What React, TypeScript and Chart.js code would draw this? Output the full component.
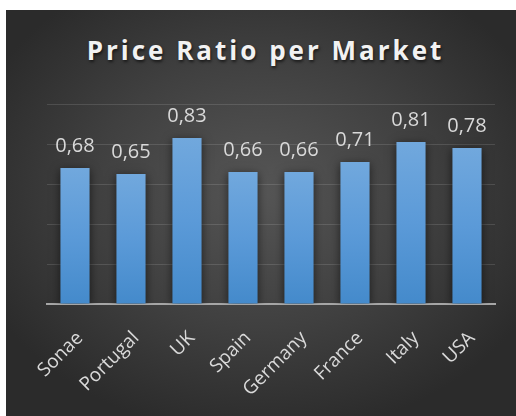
import React, { useEffect, useRef } from "react";
import { Chart, registerables } from "chart.js";

Chart.register(...registerables);

const title = "Price Ratio per Market";
const categories = ["Sonae", "Portugal", "UK", "Spain", "Germany", "France", "Italy", "USA"];
const priceRatio = [0.68, 0.65, 0.83, 0.66, 0.66, 0.71, 0.81, 0.78];
const yMin = 0;
const yMax = 1;
const yStep = 0.2;

const fmt = (v: number) => v.toFixed(2).replace(".", ",");

const labelPlugin = {
  id: "valueLabels",
  beforeDatasetsDraw(chart: any) {
    const ctx = chart.ctx;
    ctx.save();
    ctx.shadowColor = "rgba(0,0,0,0.55)";
    ctx.shadowBlur = 9;
    ctx.shadowOffsetX = 0;
    ctx.shadowOffsetY = 2;
  },
  afterDatasetsDraw(chart: any) {
    const ctx = chart.ctx;
    ctx.restore();
    const meta = chart.getDatasetMeta(0);
    ctx.save();
    ctx.fillStyle = "#d9d9d9";
    ctx.font = "20px 'Open Sans'";
    ctx.textAlign = "center";
    ctx.textBaseline = "alphabetic";
    meta.data.forEach((bar: any, i: number) => {
      ctx.fillText(fmt(priceRatio[i]), bar.x, bar.y - 16);
    });
    ctx.restore();
  },
};

export default function App() {
  const ref = useRef<HTMLCanvasElement | null>(null);
  useEffect(() => {
    if (!ref.current) return;
    const chart = new Chart(ref.current, {
      type: "bar",
      data: {
        labels: categories,
        datasets: [
          {
            data: priceRatio,
            barPercentage: 0.52,
            categoryPercentage: 1,
            borderWidth: 0,
            backgroundColor: (c: any) => {
              const ch = c.chart;
              const ys = ch.scales?.y;
              if (!ch.chartArea || !ys || c.parsed == null) return "#5b9bd5";
              const top = ys.getPixelForValue(c.parsed.y);
              const bottom = ys.getPixelForValue(0);
              const g = ch.ctx.createLinearGradient(0, top, 0, bottom);
              g.addColorStop(0, "#71a8dd");
              g.addColorStop(0.5, "#5b9ad8");
              g.addColorStop(1, "#448acb");
              return g;
            },
          },
        ],
      },
      options: {
        animation: false,
        responsive: false,
        maintainAspectRatio: false,
        layout: { padding: { top: 94, right: 21, left: 0, bottom: 0 } },
        plugins: { legend: { display: false }, tooltip: { enabled: false }, title: { display: false } },
        scales: {
          x: {
            grid: { display: false, drawTicks: false },
            border: { display: true, color: "#a6a6a6", width: 2 },
            ticks: {
              color: "#d9d9d9",
              font: { family: "'Open Sans'", size: 19 },
              minRotation: 45,
              maxRotation: 45,
              padding: 23,
              labelOffset: 5,
              autoSkip: false,
            },
            afterFit: (s: any) => {
              s.height = 112;
            },
          },
          y: {
            min: yMin,
            max: yMax,
            ticks: { display: false, stepSize: yStep },
            grid: { color: "rgba(255,255,255,0.12)", lineWidth: 1, drawTicks: false },
            border: { display: false },
            afterFit: (s: any) => {
              s.width = 41;
            },
          },
        },
      },
      plugins: [labelPlugin],
    });
    return () => chart.destroy();
  }, []);

  return (
    <div
      style={{
        position: "absolute",
        left: 6,
        top: 10,
        width: 510,
        height: 406,
        background: "radial-gradient(ellipse 60% 60% at 50% 45%, #565656 0%, #404040 55%, #2b2b2b 100%)",
        overflow: "hidden",
      }}
    >
      <div
        style={{
          position: "absolute",
          left: 0,
          top: 23,
          width: 519,
          textAlign: "center",
          fontFamily: "'Open Sans', sans-serif",
          fontWeight: 700,
          fontSize: 26,
          letterSpacing: 3,
          color: "#f2f2f2",
          textShadow: "1px 2px 3px rgba(0,0,0,0.6)",
          lineHeight: "34px",
        }}
      >
        {title}
      </div>
      <canvas ref={ref} width={510} height={406} style={{ position: "absolute", left: 0, top: 0 }} />
    </div>
  );
}
